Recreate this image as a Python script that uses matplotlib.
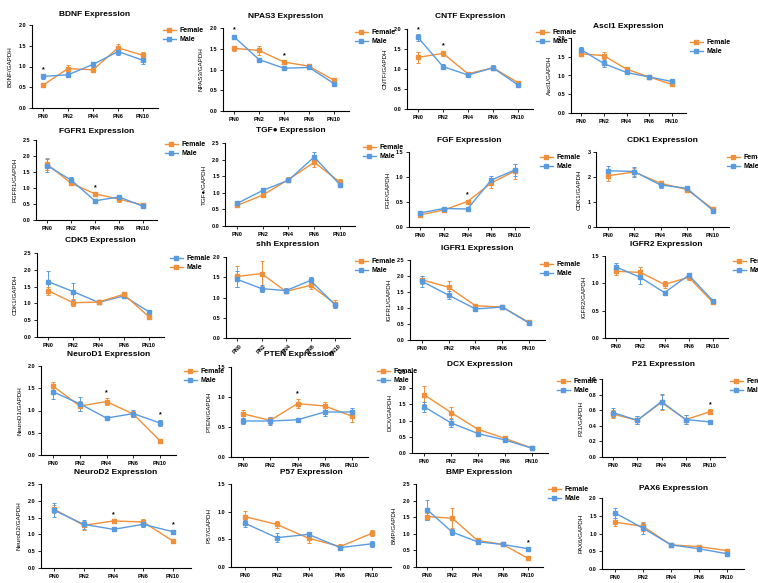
import matplotlib
matplotlib.use("Agg")
import matplotlib.pyplot as plt
from matplotlib.lines import Line2D
import numpy as np

plt.rcParams['font.family'] = ['Liberation Sans', 'DejaVu Sans']
plt.rcParams['font.weight'] = 'bold'

W, H = 758, 583
ORANGE = '#F0903A'
BLUE = '#5A9BE0'

timepoints = ['PN0', 'PN2', 'PN4', 'PN6', 'PN10']

# female / male means and SEM
bdnf_f = [0.55, 0.95, 0.92, 1.45, 1.27]
bdnf_m = [0.76, 0.80, 1.05, 1.36, 1.15]
bdnf_fe = [0.05, 0.08, 0.04, 0.10, 0.07]
bdnf_me = [0.05, 0.06, 0.06, 0.08, 0.10]

npas3_f = [1.51, 1.46, 1.18, 1.08, 0.74]
npas3_m = [1.79, 1.24, 1.03, 1.05, 0.66]
npas3_fe = [0.06, 0.10, 0.04, 0.03, 0.03]
npas3_me = [0.05, 0.04, 0.02, 0.03, 0.02]

cntf_f = [1.29, 1.39, 0.88, 1.03, 0.66]
cntf_m = [1.79, 1.06, 0.85, 1.03, 0.60]
cntf_fe = [0.13, 0.07, 0.03, 0.05, 0.03]
cntf_me = [0.08, 0.07, 0.03, 0.06, 0.04]

ascl1_f = [1.58, 1.53, 1.17, 0.96, 0.76]
ascl1_m = [1.69, 1.32, 1.08, 0.96, 0.84]
ascl1_fe = [0.05, 0.09, 0.03, 0.02, 0.03]
ascl1_me = [0.06, 0.10, 0.03, 0.02, 0.02]

fgfr1_f = [1.75, 1.15, 0.82, 0.65, 0.47]
fgfr1_m = [1.70, 1.25, 0.60, 0.72, 0.43]
fgfr1_fe = [0.20, 0.07, 0.05, 0.08, 0.03]
fgfr1_me = [0.20, 0.08, 0.06, 0.05, 0.03]

tgf_f = [0.62, 0.93, 1.40, 1.92, 1.32]
tgf_m = [0.68, 1.07, 1.38, 2.08, 1.24]
tgf_fe = [0.06, 0.05, 0.07, 0.15, 0.10]
tgf_me = [0.08, 0.07, 0.06, 0.15, 0.07]

fgf_f = [0.24, 0.34, 0.51, 0.88, 1.12]
fgf_m = [0.28, 0.37, 0.36, 0.94, 1.14]
fgf_fe = [0.03, 0.03, 0.04, 0.10, 0.15]
fgf_me = [0.03, 0.03, 0.02, 0.08, 0.12]

cdk1_f = [2.05, 2.20, 1.75, 1.50, 0.72]
cdk1_m = [2.25, 2.22, 1.68, 1.55, 0.66]
cdk1_fe = [0.22, 0.15, 0.10, 0.10, 0.04]
cdk1_me = [0.18, 0.20, 0.12, 0.08, 0.04]

cdk5_f = [1.65, 1.35, 1.03, 1.22, 0.75]
cdk5_m = [1.38, 1.02, 1.04, 1.27, 0.60]
cdk5_fe = [0.30, 0.25, 0.03, 0.05, 0.03]
cdk5_me = [0.12, 0.10, 0.03, 0.05, 0.02]

shh_f = [1.52, 1.59, 1.15, 1.30, 0.85]
shh_m = [1.45, 1.22, 1.17, 1.42, 0.82]
shh_fe = [0.25, 0.30, 0.05, 0.08, 0.08]
shh_me = [0.20, 0.08, 0.06, 0.08, 0.08]

igfr1_f = [1.88, 1.65, 1.07, 1.03, 0.55]
igfr1_m = [1.83, 1.40, 0.97, 1.03, 0.53]
igfr1_fe = [0.13, 0.18, 0.05, 0.03, 0.02]
igfr1_me = [0.16, 0.12, 0.05, 0.03, 0.02]

igfr2_f = [1.22, 1.20, 0.98, 1.11, 0.65]
igfr2_m = [1.30, 1.11, 0.83, 1.15, 0.68]
igfr2_fe = [0.07, 0.10, 0.07, 0.04, 0.03]
igfr2_me = [0.08, 0.12, 0.03, 0.04, 0.03]

neurod1_f = [1.55, 1.10, 1.20, 0.92, 0.32]
neurod1_m = [1.42, 1.15, 0.83, 0.93, 0.72]
neurod1_fe = [0.10, 0.12, 0.08, 0.06, 0.03]
neurod1_me = [0.17, 0.15, 0.05, 0.08, 0.06]

pten_f = [0.72, 0.61, 0.89, 0.85, 0.68]
pten_m = [0.60, 0.60, 0.62, 0.75, 0.75]
pten_fe = [0.07, 0.06, 0.08, 0.07, 0.10]
pten_me = [0.05, 0.06, 0.02, 0.06, 0.07]

dcx_f = [1.80, 1.25, 0.73, 0.45, 0.15]
dcx_m = [1.43, 0.93, 0.60, 0.40, 0.15]
dcx_fe = [0.28, 0.17, 0.05, 0.03, 0.02]
dcx_me = [0.15, 0.12, 0.05, 0.06, 0.03]

p21_f = [0.55, 0.47, 0.70, 0.48, 0.58]
p21_m = [0.57, 0.47, 0.71, 0.48, 0.45]
p21_fe = [0.05, 0.05, 0.10, 0.06, 0.03]
p21_me = [0.06, 0.05, 0.10, 0.06, 0.03]

neurod2_f = [1.75, 1.27, 1.40, 1.37, 0.80]
neurod2_m = [1.72, 1.30, 1.15, 1.30, 1.08]
neurod2_fe = [0.12, 0.13, 0.05, 0.10, 0.05]
neurod2_me = [0.20, 0.13, 0.05, 0.08, 0.06]

p57_f = [0.91, 0.77, 0.52, 0.37, 0.61]
p57_m = [0.79, 0.53, 0.59, 0.35, 0.42]
p57_fe = [0.10, 0.07, 0.08, 0.04, 0.05]
p57_me = [0.06, 0.08, 0.05, 0.04, 0.05]

bmp_f = [1.52, 1.47, 0.80, 0.68, 0.26]
bmp_m = [1.73, 1.05, 0.76, 0.68, 0.55]
bmp_fe = [0.10, 0.30, 0.04, 0.04, 0.02]
bmp_me = [0.30, 0.08, 0.05, 0.04, 0.04]

pax6_f = [1.32, 1.20, 0.68, 0.63, 0.52]
pax6_m = [1.58, 1.15, 0.68, 0.57, 0.43]
pax6_fe = [0.12, 0.12, 0.05, 0.05, 0.05]
pax6_me = [0.13, 0.15, 0.05, 0.06, 0.05]

fig = plt.figure(figsize=(W / 100, H / 100), dpi=100)


def panel(title, ylabel, f, m, fe, me, ymax, ystep, box, title_y,
          legend=None, stars=(), swap=False, rot=0, fmt='{:.1f}'):
    p0, p4, top, bot = box
    s = (p4 - p0) / 4
    left = p0 - 0.45 * s
    right = p0 + 4.6 * s
    ax = fig.add_axes([left / W, 1 - bot / H, (right - left) / W, (bot - top) / H])
    fc, mc = (BLUE, ORANGE) if swap else (ORANGE, BLUE)
    x = np.arange(len(timepoints))
    for vals, err, c in ((f, fe, fc), (m, me, mc)):
        ax.errorbar(x, vals, yerr=err, color=c, marker='s', ms=3, lw=1,
                    elinewidth=0.7, capsize=1.5, capthick=0.7)
    for i in stars:
        y = max(f[i] + fe[i], m[i] + me[i]) + ymax * 0.06
        ax.text(i, y, '*', ha='center', va='center', fontsize=5)
    ax.set_xlim(-0.45, 4.6)
    ax.set_ylim(0, ymax)
    ticks = np.arange(0, ymax + 1e-9, ystep)
    ax.set_yticks(ticks)
    ax.set_yticklabels([fmt.format(t) for t in ticks])
    ax.set_xticks(x)
    ax.set_xticklabels(timepoints, rotation=rot)
    for sp in ('top', 'right'):
        ax.spines[sp].set_visible(False)
    for sp in ('left', 'bottom'):
        ax.spines[sp].set_linewidth(0.8)
    ax.tick_params(direction='out', length=2, width=0.6, labelsize=4, pad=2)
    ax.set_ylabel(ylabel, fontsize=4.5, labelpad=4)
    fig.text((left + right) / 2 / W, 1 - title_y / H, title, ha='center',
             va='center', fontsize=6, fontweight='bold')
    if legend is not None:
        lx, ly = legend
        handles = [Line2D([], [], color=c, marker='s', ms=3, lw=1) for c in (fc, mc)]
        fig.legend(handles, ['Female', 'Male'], loc='upper left',
                   bbox_to_anchor=(lx / W, 1 - ly / H), frameon=False,
                   fontsize=5, handlelength=1.8, handletextpad=0.6,
                   labelspacing=0.35, borderpad=0, borderaxespad=0)
    return ax


panel('BDNF Expression', 'BDNF/GAPDH', bdnf_f, bdnf_m, bdnf_fe, bdnf_me,
      2.0, 0.5, (43, 143, 25, 108), 14, legend=(163, 27), stars=[0])
panel('NPAS3 Expression', 'NPAS3/GAPDH', npas3_f, npas3_m, npas3_fe, npas3_me,
      2.0, 0.5, (234, 334, 28, 111), 16, legend=(355, 29), stars=[0, 2])
panel('CNTF Expression', 'CNTF/GAPDH', cntf_f, cntf_m, cntf_fe, cntf_me,
      2.0, 0.5, (418, 518, 29, 109), 16, legend=(536, 29), stars=[0, 1])
panel('Ascl1 Expression', 'Ascl1/GAPDH', ascl1_f, ascl1_m, ascl1_fe, ascl1_me,
      2.0, 0.5, (581, 672, 38, 113), 27, legend=(690, 39))

panel('FGFR1 Expression', 'FGFR1/GAPDH', fgfr1_f, fgfr1_m, fgfr1_fe, fgfr1_me,
      2.5, 0.5, (47, 143, 140, 220), 132, legend=(165, 141), stars=[2])
panel('TGF\u25cf Expression', 'TGF\u25cf/GAPDH', tgf_f, tgf_m, tgf_fe, tgf_me,
      2.5, 0.5, (237, 340, 143, 226), 131, legend=(363, 144))
panel('FGF Expression', 'FGF/GAPDH', fgf_f, fgf_m, fgf_fe, fgf_me,
      1.5, 0.5, (420, 515, 152, 227), 141, legend=(540, 154), stars=[2])
panel('CDK1 Expression', 'CDK1/GAPDH', cdk1_f, cdk1_m, cdk1_fe, cdk1_me,
      3.0, 1.0, (608, 713, 152, 227), 141, legend=(727, 154), fmt='{:.0f}')

panel('CDK5 Expression', 'CDK1/GAPDH', cdk5_f, cdk5_m, cdk5_fe, cdk5_me,
      2.5, 0.5, (48, 149, 253, 337), 241, legend=(170, 255), swap=True)
panel('shh Expression', '', shh_f, shh_m, shh_fe, shh_me,
      2.0, 0.5, (237, 335, 257, 338), 245, legend=(355, 258), rot=45)
panel('IGFR1 Expression', 'IGFR1/GAPDH', igfr1_f, igfr1_m, igfr1_fe, igfr1_me,
      2.5, 0.5, (422, 529, 260, 340), 248, legend=(540, 261))
panel('IGFR2 Expression', 'IGFR2/GAPDH', igfr2_f, igfr2_m, igfr2_fe, igfr2_me,
      1.5, 0.5, (616, 713, 256, 338), 245, legend=(733, 258))

panel('NeuroD1 Expression', 'NeuroD1/GAPDH', neurod1_f, neurod1_m, neurod1_fe, neurod1_me,
      2.0, 0.5, (53, 160, 366, 455), 354, legend=(184, 368), stars=[2, 4])
panel('PTEN Expression', 'PTEN/GAPDH', pten_f, pten_m, pten_fe, pten_me,
      1.5, 0.5, (243, 352, 367, 457), 354, legend=(377, 368), stars=[2])
panel('DCX Expression', 'DCX/GAPDH', dcx_f, dcx_m, dcx_fe, dcx_me,
      2.5, 0.5, (424, 532, 372, 453), 365, legend=(557, 378))
panel('P21 Expression', 'P21/GAPDH', p21_f, p21_m, p21_fe, p21_me,
      1.0, 0.2, (613, 710, 379, 457), 365, legend=(730, 378), stars=[4])

panel('NeuroD2 Expression', 'NeuroD2/GAPDH', neurod2_f, neurod2_m, neurod2_fe, neurod2_me,
      2.5, 0.5, (54, 173, 484, 568), 472, stars=[2, 4])
panel('P57 Expression', 'P57/GAPDH', p57_f, p57_m, p57_fe, p57_me,
      1.5, 0.5, (245, 372, 484, 567), 472)
panel('BMP Expression', 'BMP/GAPDH', bmp_f, bmp_m, bmp_fe, bmp_me,
      2.5, 0.5, (427, 528, 484, 567), 472, legend=(548, 486), stars=[4])
panel('PAX6 Expression', 'PAX6/GAPDH', pax6_f, pax6_m, pax6_fe, pax6_me,
      2.0, 0.5, (615, 727, 498, 569), 488)

fig.savefig('out.png', dpi=100)
